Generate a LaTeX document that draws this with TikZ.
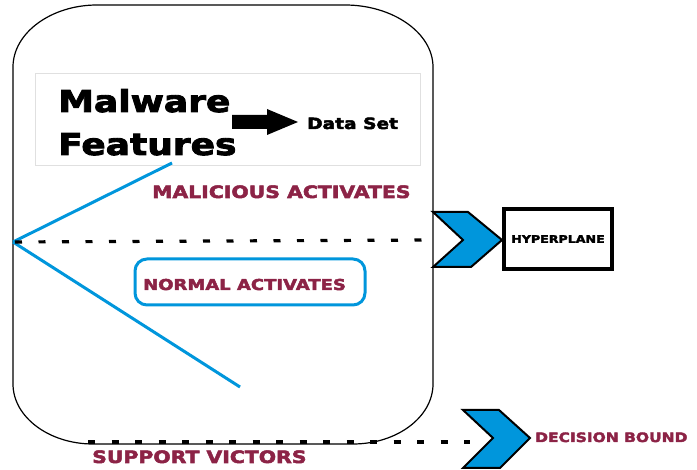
\documentclass[tikz,border=0pt]{standalone}
\usepackage{fontspec}
\setmainfont{DejaVu Sans}
\newfontfamily\blk[FakeStretch=1.2,FakeBold=3]{DejaVu Sans}
\usetikzlibrary{calc}
\definecolor{skyline}{RGB}{0,150,220}
\definecolor{maroon}{RGB}{140,35,70}
\tikzset{
  heavy/.style={font=\blk\bfseries\fontsize{#1}{#1}\selectfont, inner sep=0pt},
  label/.style={heavy=#1, text=maroon},
  chevron/.style={fill=skyline, draw=black, line width=2pt, line join=miter},
  blueline/.style={skyline, line width=3pt},
  dashline/.style={black, line width=3.2pt, dash pattern=on 7pt off 16.5pt},
}
\begin{document}
\begin{tikzpicture}[x=1pt,y=-1pt]
\useasboundingbox (0,0) rectangle (697,470);

% rounded container
\draw[line width=1.2pt]
  (13,67) .. controls (13,33) and (51,5) .. (97,5) -- (345,5)
  .. controls (393,5) and (433,33) .. (433,67) -- (433,384)
  .. controls (433,417) and (397,444) .. (353,444) -- (93,444)
  .. controls (49,444) and (13,417) .. (13,384) -- cycle;

% light frame round the title
\draw[black!12, line width=0.8pt] (35,73) rectangle (420,165);

% title and data set
\node[heavy=30, anchor=base west] (malware) at (58,112) {Malware};
\node[heavy=30, anchor=base west] (features) at (58,155) {Features};
\node[heavy=15.5, anchor=base west] (dataset) at (307,129) {Data Set};
\fill (232,115) -- (267,115) -- (267,109) -- (298,122) -- (267,135) -- (267,129) -- (232,129) -- cycle;

% apex and the two blue rays
\coordinate (apex) at (13,242);
\coordinate (rayup) at (172,163);
\coordinate (raydown) at (240,387);
\draw[blueline] (apex) -- (rayup);
\draw[blueline] (apex) -- (raydown);

% labels
\node[label=17, anchor=base west] (malicious) at (152,198) {MALICIOUS ACTIVATES};
\node[draw=skyline, line width=3pt, rounded corners=12pt, minimum width=230pt, minimum height=46pt] (normalbox) at (250,282) {};
\node[label=15, anchor=base west] (normal) at (143,290) {NORMAL ACTIVATES};
\node[label=17, anchor=base west] (support) at (92,463) {SUPPORT VICTORS};
\node[label=12.9, anchor=base west] (decision) at (535,442) {DECISION BOUND};

% hyperplane
\draw[chevron] (433,212) -- (468,212) -- (502,240) -- (471,267) -- (433,267) -- (463,240) -- cycle;
\node[draw, line width=3.2pt, minimum width=108pt, minimum height=60pt, inner sep=0pt,
      font=\blk\bfseries\fontsize{10.5}{10.5}\selectfont] (hyper) at (558,239) {HYPERPLANE};
\coordinate (hyperin) at (432,240);
\draw[dashline, dash phase=-2pt] (apex) -- (hyperin);

% decision bound
\draw[chevron] (463,410) -- (499,410) -- (530,438) -- (500,468) -- (463,468) -- (493,438) -- cycle;
\coordinate (svstart) at (88,442);
\coordinate (svend) at (470,442);
\draw[dashline] (svstart) -- (svend);
\end{tikzpicture}
\end{document}
